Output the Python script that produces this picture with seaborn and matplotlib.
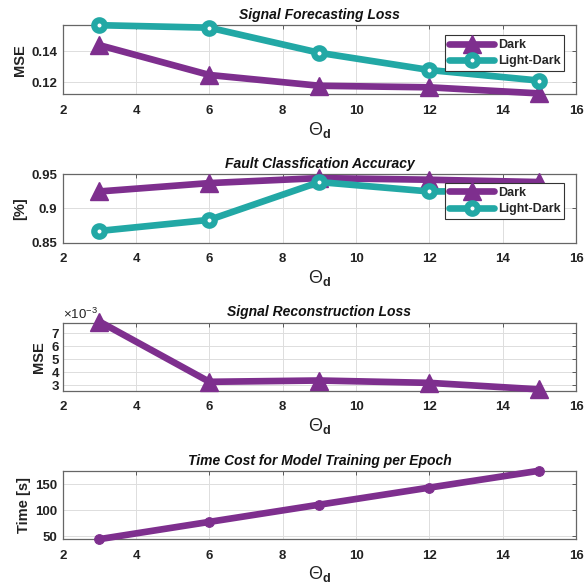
import numpy as np
import pandas as pd
import matplotlib
matplotlib.use("Agg")
import matplotlib.pyplot as plt
import seaborn as sns
from matplotlib.ticker import FormatStrFormatter, ScalarFormatter, MultipleLocator

sns.set_theme(style="white")
plt.rcParams['font.family'] = ['Liberation Sans', 'DejaVu Sans']
plt.rcParams['mathtext.fontset'] = 'custom'
plt.rcParams['mathtext.rm'] = 'Liberation Sans'
plt.rcParams['mathtext.bf'] = 'Liberation Sans:bold'
plt.rcParams['mathtext.it'] = 'Liberation Sans:italic'

theta = [3, 6, 9, 12, 15]
forecast_dark = [0.1438, 0.1247, 0.1178, 0.1168, 0.1129]
forecast_lightdark = [0.1566, 0.1550, 0.1389, 0.1279, 0.1211]
acc_dark = [0.9246, 0.9368, 0.9441, 0.9417, 0.9383]
acc_lightdark = [0.8670, 0.8832, 0.9383, 0.9246, 0.9250]
recon_dark = [7.85e-3, 3.23e-3, 3.33e-3, 3.15e-3, 2.65e-3]
time_dark = [44.5, 77.7, 110.8, 143.6, 176.1]

titles = ["Signal Forecasting Loss", "Fault Classfication Accuracy",
          "Signal Reconstruction Loss", "Time Cost for Model Training per Epoch"]
ylabels = ["MSE", "[%]", "MSE", "Time [s]"]

PURPLE = "#7E2F8E"
TEAL = "#22A8A5"

fig = plt.figure(figsize=(5.84, 5.86), dpi=100)
left, width = 0.1074, 0.879
boxes = [(0.839, 0.118), (0.586, 0.117), (0.3333, 0.116), (0.0797, 0.1166)]
axes = [fig.add_axes([left, b, width, h]) for b, h in boxes]

def dark_line(ax, y, label="Dark"):
    df = pd.DataFrame({"x": theta, "y": y})
    sns.lineplot(data=df, x="x", y="y", ax=ax, color=PURPLE, lw=4.8,
                 marker="^", markersize=13.5, markeredgecolor=PURPLE,
                 markerfacecolor=PURPLE, markeredgewidth=1, label=label,
                 clip_on=False, zorder=3)

def teal_line(ax, y, label="Light-Dark"):
    df = pd.DataFrame({"x": theta, "y": y})
    sns.lineplot(data=df, x="x", y="y", ax=ax, color=TEAL, lw=4.8,
                 marker="o", markersize=7.5, markeredgecolor=TEAL,
                 markerfacecolor="white", markeredgewidth=4.5, label=label,
                 clip_on=False, zorder=3)

# Panel 1
dark_line(axes[0], forecast_dark)
teal_line(axes[0], forecast_lightdark)
axes[0].set_ylim(0.1123, 0.1566)
axes[0].yaxis.set_major_locator(MultipleLocator(0.02))
axes[0].yaxis.set_major_formatter(FormatStrFormatter('%g'))

# Panel 2
dark_line(axes[1], acc_dark)
teal_line(axes[1], acc_lightdark)
axes[1].set_ylim(0.85, 0.95)
axes[1].yaxis.set_major_locator(MultipleLocator(0.05))
axes[1].yaxis.set_major_formatter(FormatStrFormatter('%g'))

# Panel 3
dark_line(axes[2], recon_dark)
axes[2].set_ylim(2.55e-3, 7.76e-3)
axes[2].yaxis.set_major_locator(MultipleLocator(1e-3))
fmt = ScalarFormatter(useMathText=True)
fmt.set_powerlimits((-3, -3))
axes[2].yaxis.set_major_formatter(fmt)
if axes[2].get_legend():
    axes[2].get_legend().remove()

# Panel 4
df4 = pd.DataFrame({"x": theta, "y": time_dark})
sns.lineplot(data=df4, x="x", y="y", ax=axes[3], color=PURPLE, lw=4.8,
             marker="o", markersize=7, markeredgecolor=PURPLE,
             markerfacecolor=PURPLE, clip_on=False, zorder=3)
axes[3].set_ylim(44.2, 175.6)
axes[3].yaxis.set_major_locator(MultipleLocator(50))

for i, ax in enumerate(axes):
    ax.set_xlim(2, 16)
    ax.xaxis.set_major_locator(MultipleLocator(2))
    ax.grid(True, color="#DDDDDD", lw=0.7)
    ax.set_axisbelow(True)
    for s in ax.spines.values():
        s.set_color("#666666")
        s.set_linewidth(0.9)
    ax.tick_params(direction="in", length=3, width=0.6, color="#444444",
                   top=True, right=True, labelsize=9.5, labelcolor="#222222")
    ax.tick_params(axis="x", pad=7.5)
    ax.tick_params(axis="y", pad=4)
    for lab in ax.get_xticklabels() + ax.get_yticklabels():
        lab.set_fontweight("bold")
    ax.set_title(titles[i], fontsize=10, fontweight="bold", style="italic", pad=4.5,
                 color="#111111")
    ax.set_ylabel(ylabels[i], fontsize=10.5, fontweight="bold", color="#222222", labelpad=3)
    ax.set_xlabel(r"$\Theta_{\mathbf{d}}$", fontsize=13, color="#222222", labelpad=2)

axes[2].yaxis.get_offset_text().set_fontsize(9.5)
axes[2].yaxis.get_offset_text().set_color("#222222")
axes[2].tick_params(axis="y", pad=2)

for ax, anchor in [(axes[0], (0.977, 0.856)), (axes[1], (0.977, 0.868))]:
    leg = ax.legend(loc="upper right", bbox_to_anchor=anchor, frameon=True,
                    fancybox=False, framealpha=1, edgecolor="#333333",
                    handlelength=3.6, borderpad=0.3, labelspacing=0.35,
                    handletextpad=0.3, borderaxespad=0,
                    prop={"weight": "bold", "size": 9})
    leg.get_frame().set_linewidth(0.8)
    leg.set_zorder(10)

fig.savefig("out.png", dpi=100)
